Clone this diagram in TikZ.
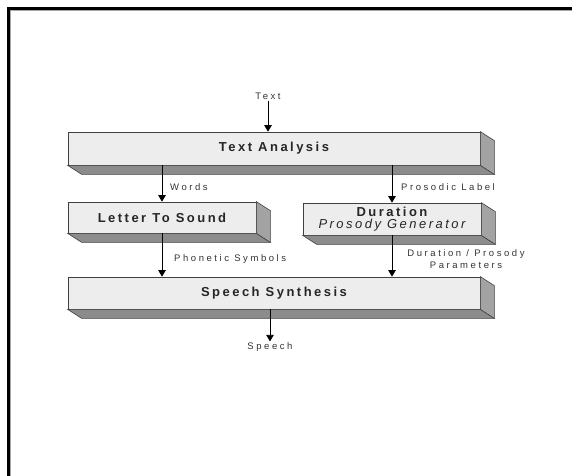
\documentclass[tikz,border=0pt]{standalone}
\usepackage{fontspec}
\setmainfont{Liberation Sans}
\newfontfamily\boxfont{Liberation Sans}[LetterSpace=19]
\newfontfamily\labfont{Liberation Sans}[LetterSpace=27]
\usetikzlibrary{arrows.meta}
\definecolor{facegray}{gray}{0.93}
\definecolor{sidegray}{gray}{0.64}
\definecolor{basegray}{gray}{0.55}
\tikzset{
  block/.style={draw=black!75,line width=0.7pt,fill=facegray,inner sep=0pt,
    font=\boxfont\fontsize{13}{12.5}\selectfont,text=black!85},
  lab/.style={inner sep=1pt,font=\labfont\fontsize{9.5}{12}\selectfont,text=black!80},
  flow/.style={line width=0.8pt,-{Triangle[length=6.5pt,width=7.5pt]}}
}
% extruded bottom and right faces of a block
\def\slab#1{%
  \filldraw [draw=black!75,line width=0.6pt,fill=basegray] (#1.south west) -- ++(14,-9)
    -- ([shift={(14,-9)}]#1.south east) -- (#1.south east) -- cycle;
  \filldraw [draw=black!75,line width=0.6pt,fill=sidegray] (#1.north east) -- ++(14,-9)
    -- ([shift={(14,-9)}]#1.south east) -- (#1.south east) -- cycle;}

\begin{document}
\begin{tikzpicture}[x=1pt,y=1pt]
  \useasboundingbox (0,0) rectangle (572,-475);
  \clip (0,0) rectangle (572,-475);
  \draw [line width=2.5pt] (8.3,-480) -- (8.3,-8.3) -- (580,-8.3);
  \draw [gray!70,line width=1.2pt] (10.6,-480) -- (10.6,-10.6) -- (580,-10.6);

  \node [block,minimum width=412,minimum height=33] (ta) at (274,-148.5) {\bfseries Text Analysis};
  \node [block,minimum width=188,minimum height=31] (lts) at (162,-217.5) {\bfseries Letter To Sound};
  \node [block,minimum width=178,minimum height=32,align=center] (dur) at (392,-219)
    {\bfseries Duration\\\itshape Prosody Generator};
  \node [block,minimum width=412,minimum height=32] (ss) at (274,-293) {\bfseries Speech Synthesis};
  \slab{ta} \slab{lts} \slab{dur} \slab{ss}

  \node [lab] (txt) at (268,-96) {Text};
  \node [lab] (spc) at (270,-347) {Speech};
  \node [lab,anchor=west] (wrd) at (169,-187) {Words};
  \node [lab,anchor=west] (pl) at (400,-187) {Prosodic Label};
  \node [lab,anchor=west] (ps) at (173,-259) {Phonetic Symbols};
  \node [lab,align=center] (dp) at (466,-259) {Duration / Prosody\\Parameters};

  \draw [flow] (txt) -- (txt |- ta.north);
  \draw [flow] (ta.south -| lts) -- (lts.north);
  \draw [flow] (ta.south -| dur) -- (dur.north);
  \draw [flow] (lts.south) -- (lts.south |- ss.north);
  \draw [flow] (dur.south) -- (dur.south |- ss.north);
  \draw [flow] (spc.north |- ss.south) -- (spc);
\end{tikzpicture}
\end{document}
